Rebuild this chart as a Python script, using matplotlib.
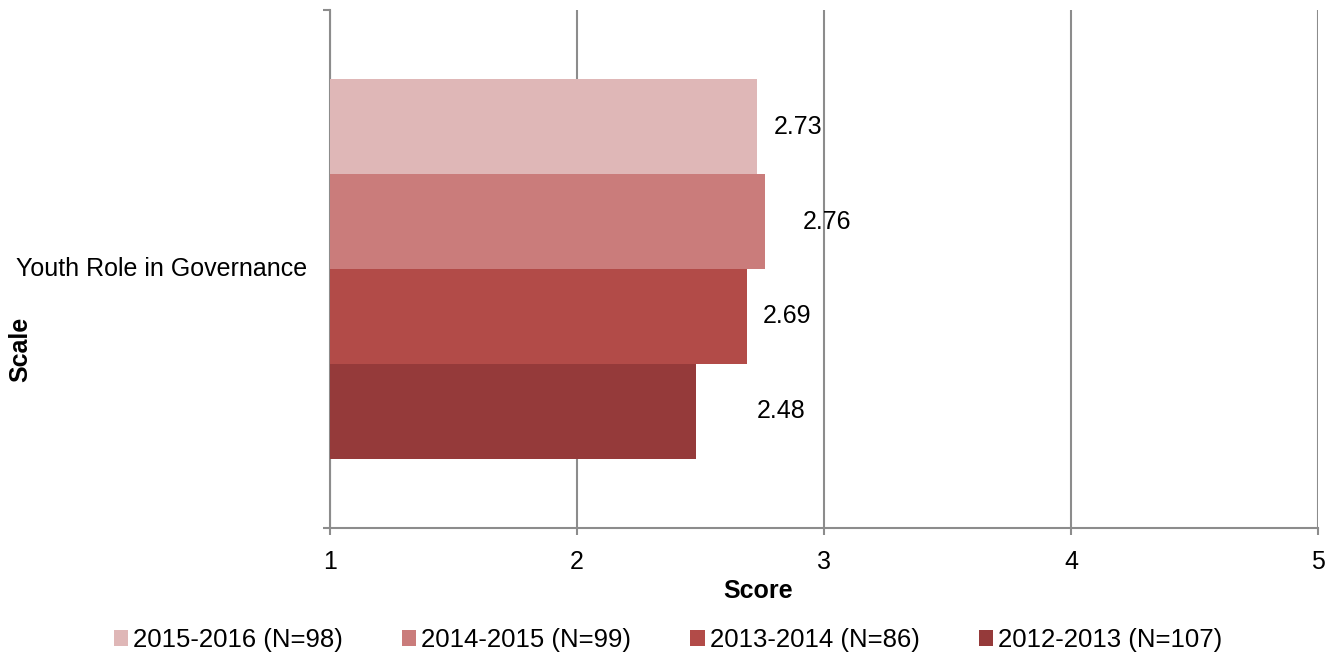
import matplotlib.pyplot as plt
import numpy as np

plt.rcParams['font.family'] = ['Liberation Sans', 'DejaVu Sans']

category = 'Youth Role in Governance'
series = ['2015-2016 (N=98)', '2014-2015 (N=99)', '2013-2014 (N=86)', '2012-2013 (N=107)']
scores = [2.73, 2.76, 2.69, 2.48]
colors = ['#DFB7B7', '#CA7C7B', '#B24B48', '#953A3A']
x_ticks = [1, 2, 3, 4, 5]

grid_col = '#8C8C8C'
fs = 18

fig = plt.figure(figsize=(13.36, 6.56), dpi=100)
ax = fig.add_axes([0.247, 0.195, 0.7395, 0.79])

bar_h = 0.183
offsets = np.array([1.5, 0.5, -0.5, -1.5]) * bar_h
label_dx = [16, 38, 15, 61]   # label shifts in px, as in the original

for i, (name, val, col) in enumerate(zip(series, scores, colors)):
    ax.barh(offsets[i], val, height=bar_h, color=col, label=name, zorder=3)
    ax.annotate(f'{val:.2f}', (val, offsets[i]), xytext=(label_dx[i] * 0.72, 0),
                textcoords='offset points', va='center', ha='left',
                fontsize=fs, color='black', zorder=4)

ax.set_xlim(1, 5)
ax.set_ylim(-0.5, 0.5)
ax.set_xticks(x_ticks)
ax.set_xticklabels([str(t) for t in x_ticks], fontsize=fs)
ax.set_yticks([-0.5, 0.5])
ax.set_yticklabels(['', ''])
ax.text(-0.023, 0.5, category, transform=ax.transAxes, ha='right', va='center',
        fontsize=fs)

ax.grid(axis='x', color=grid_col, linewidth=1.5, zorder=0)
for s in ['top', 'right']:
    ax.spines[s].set_visible(False)
for s in ['left', 'bottom']:
    ax.spines[s].set_color(grid_col)
    ax.spines[s].set_linewidth(1.5)
ax.tick_params(axis='both', direction='out', length=5, width=1.5, color=grid_col)
ax.tick_params(axis='x', pad=11)

fig.text(20 / 1336, 1 - 349 / 656, 'Scale', rotation=90, ha='center', va='center',
         fontsize=fs, fontweight='bold')
fig.text(758 / 1336, 1 - 591 / 656, 'Score', ha='center', va='center',
         fontsize=fs, fontweight='bold')

fig.legend(loc='center', bbox_to_anchor=(0.5, 1 - 640 / 656), ncol=4, frameon=False,
           fontsize=18.5, handlelength=0.55, handleheight=0.55, handletextpad=0.2,
           columnspacing=2.3)

fig.savefig('out.png', dpi=100)
